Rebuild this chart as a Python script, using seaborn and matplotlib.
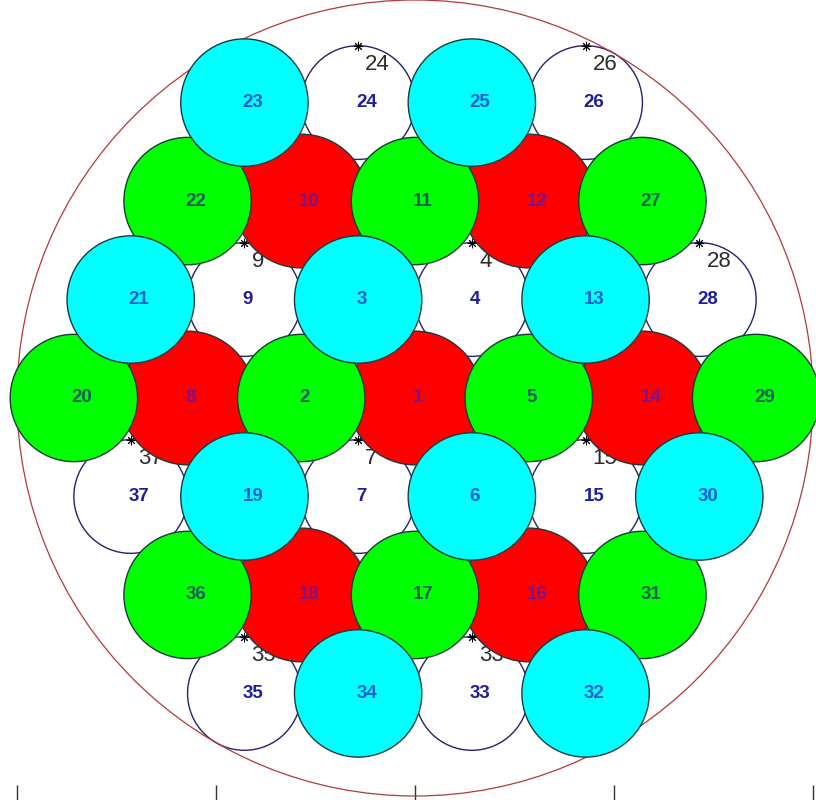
import numpy as np
import pandas as pd
import matplotlib
matplotlib.use("Agg")
import matplotlib.pyplot as plt
from matplotlib.patches import Circle
import seaborn as sns

# 37-strand hexagonal bundle, listed row by row (top row first, left to right)
strand_id = [23, 24, 25, 26,
             22, 10, 11, 12, 27,
             21, 9, 3, 4, 13, 28,
             20, 8, 2, 1, 5, 14, 29,
             37, 19, 7, 6, 15, 30,
             36, 18, 17, 16, 31,
             35, 34, 33, 32]
strand_row = [3, 3, 3, 3,
              2, 2, 2, 2, 2,
              1, 1, 1, 1, 1, 1,
              0, 0, 0, 0, 0, 0, 0,
              -1, -1, -1, -1, -1, -1,
              -2, -2, -2, -2, -2,
              -3, -3, -3, -3]
strand_col = [0, 1, 2, 3,
              0, 1, 2, 3, 4,
              0, 1, 2, 3, 4, 5,
              0, 1, 2, 3, 4, 5, 6,
              0, 1, 2, 3, 4, 5,
              0, 1, 2, 3, 4,
              0, 1, 2, 3]
# C = cyan, G = green, R = red, W = plain (white) strand
strand_kind = ["C", "W", "C", "W",
               "G", "R", "G", "R", "G",
               "C", "W", "C", "W", "C", "W",
               "G", "R", "G", "R", "G", "R", "G",
               "W", "C", "W", "C", "W", "C",
               "G", "R", "G", "R", "G",
               "W", "C", "W", "C"]
tick_values = [-10, -5, 0, 5, 10]

cable_radius = 10.0
pitch = cable_radius / 3.5
r_plain = pitch / 2
radius = {"R": 1.68, "G": 1.6, "C": 1.6}

fill = {"W": "white", "R": "#ff0000", "G": "#00ff00", "C": "#00ffff"}
label_color = {"W": "#1f1f9c", "R": "#7a1490", "G": "#146058", "C": "#1f5fcf"}

df = pd.DataFrame({"id": strand_id, "row": strand_row, "col": strand_col, "kind": strand_kind})
n_in_row = 7 - df["row"].abs()
df["x"] = (df["col"] - (n_in_row - 1) / 2) * pitch
df["y"] = df["row"] * pitch * np.sqrt(3) / 2

sns.set_theme(style="white")
plt.rcParams["font.family"] = ["Liberation Sans", "DejaVu Sans"]

fig = plt.figure(figsize=(8.16, 8.0), dpi=100)
ax = fig.add_axes([0, 0, 1, 1])

plain = df[df["kind"] == "W"].copy()
plain["y_top"] = plain["y"] + r_plain

# plain strands underneath
for _, s in plain.iterrows():
    ax.add_patch(Circle((s["x"], s["y"]), r_plain, facecolor="white",
                        edgecolor="#23236e", linewidth=1.0, zorder=2))
    ax.text(s["x"] - 0.05, s["y"], str(s["id"]), ha="left", va="center",
            fontsize=13.5, fontweight="bold", color=label_color["W"], zorder=3)
    ax.text(s["x"] + 0.18, s["y_top"] - 0.2, str(s["id"]), ha="left", va="top",
            fontsize=16, color="#2b2b2b", zorder=3)

sns.scatterplot(data=plain, x="x", y="y_top", marker=(8, 2, 0), s=40,
                color="black", linewidth=0.7, zorder=3, ax=ax, legend=False)

# cable outline
ax.add_patch(Circle((0, 0), cable_radius, fill=False, edgecolor="#b03a3a",
                    linewidth=0.9, zorder=3.5))

# coloured strands: red, then green, then cyan on top
for z, kind in enumerate(["R", "G", "C"]):
    for _, s in df[df["kind"] == kind].iterrows():
        ax.add_patch(Circle((s["x"], s["y"]), radius[kind], facecolor=fill[kind],
                            edgecolor="#1d3a3a", linewidth=1.0, zorder=4 + z))
        ax.text(s["x"] - 0.05, s["y"], str(s["id"]), ha="left", va="center",
                fontsize=13.5, fontweight="bold", color=label_color[kind], zorder=7)

ax.set_xlim(-415 / 39.8, 401 / 39.8)
ax.set_ylim(-402 / 39.8, 398 / 39.8)
ax.set_aspect("equal", adjustable="box")
ax.set_xticks(tick_values)
ax.set_yticks([])
ax.tick_params(axis="x", direction="in", length=11, width=1, color="#333333",
               labelbottom=False, bottom=True)
for sp in ax.spines.values():
    sp.set_visible(False)
ax.set_xlabel("")
ax.set_ylabel("")

fig.savefig("out.png", dpi=100)
